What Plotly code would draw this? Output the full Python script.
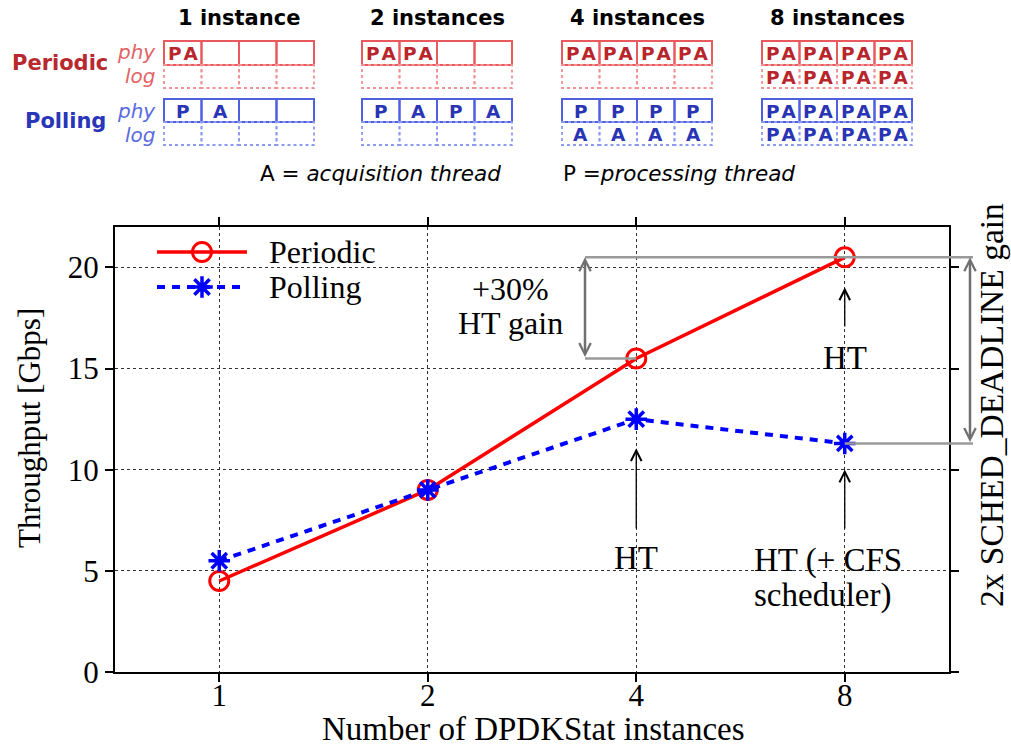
import plotly.graph_objects as go

W, H = 1011, 748

# ---------------- data ----------------
instances = ["1", "2", "4", "8"]
periodic = [4.5, 9.0, 15.5, 20.5]
polling = [5.5, 9.0, 12.5, 11.3]
y_ticks = [0, 5, 10, 15, 20]

group_titles = ["1 instance", "2 instances", "4 instances", "8 instances"]
periodic_phy = [["PA", "", "", ""], ["PA", "PA", "", ""], ["PA"] * 4, ["PA"] * 4]
periodic_log = [[""] * 4, [""] * 4, [""] * 4, ["PA"] * 4]
polling_phy = [["P", "A", "", ""], ["P", "A", "P", "A"], ["P"] * 4, ["PA"] * 4]
polling_log = [[""] * 4, [""] * 4, ["A"] * 4, ["PA"] * 4]

# ---------------- geometry ----------------
PL, PR, PT, PB = 115, 949, 227, 672
XR = [-0.5, 3.5]
YR = [0, 22]

def px(x):
    return x / W

def py(y):
    return 1 - y / H

def dx(i):
    return PL + (i - XR[0]) / (XR[1] - XR[0]) * (PR - PL)

def dy(v):
    return PB - (v - YR[0]) / (YR[1] - YR[0]) * (PB - PT)

SERIF = "Liberation Serif"
SANS = "DejaVu Sans"

RED = "#ff0000"
BLUE = "#0000ff"

fig = go.Figure()

# main data traces
fig.add_trace(go.Scatter(
    x=list(range(len(instances))), y=periodic, mode="lines+markers", name="Periodic",
    line=dict(color=RED, width=3.5),
    marker=dict(symbol="circle-open", size=19, color=RED, line=dict(width=3, color=RED)),
    showlegend=False, xaxis="x", yaxis="y"))
fig.add_trace(go.Scatter(
    x=list(range(len(instances))), y=polling, mode="lines+markers", name="Polling",
    line=dict(color=BLUE, width=4, dash="8px,7px"),
    marker=dict(symbol="asterisk-open", size=18, color=BLUE, line=dict(width=3.5, color=BLUE)),
    showlegend=False, xaxis="x", yaxis="y"))

# custom legend on pixel overlay axis
leg_x0, leg_x1, leg_mx, leg_tx = 157, 247, 202, 267
for name, yy, tr in [("Periodic", 252, fig.data[0]), ("Polling", 287, fig.data[1])]:
    fig.add_trace(go.Scatter(
        x=[leg_x0, leg_x1], y=[yy, yy], mode="lines", line=tr.line,
        showlegend=False, xaxis="x2", yaxis="y2", hoverinfo="skip"))
    fig.add_trace(go.Scatter(
        x=[leg_mx], y=[yy], mode="markers", marker=tr.marker,
        showlegend=False, xaxis="x2", yaxis="y2", hoverinfo="skip"))

annotations = []
shapes = []


def label(x, y, text, size, family=SERIF, color="black", xanchor="center", angle=0):
    annotations.append(dict(x=px(x), y=py(y), xref="paper", yref="paper", text=text,
                            showarrow=False, xanchor=xanchor, yanchor="middle",
                            textangle=angle,
                            font=dict(family=family, size=size, color=color)))


for name, yy in [("Periodic", 252), ("Polling", 287)]:
    label(leg_tx, yy, name, 32, xanchor="left")

# axis titles
label(30, 428, "Throughput [Gbps]", 31, angle=-90)
label(533, 729, "Number of DPDKStat instances", 33)
label(991, 405, "2x SCHED_DEADLINE gain", 33.5, angle=-90)

# gray gain annotations
GRAY_L = "#9a9a9a"
GRAY_A = "#707070"
xa_left, xa_right = 585, 970
y_top = dy(periodic[3])
y_ht = dy(periodic[2])
y_pol = dy(polling[3])
for (x0, y0, x1, y1) in [(xa_left, y_top, xa_right + 3, y_top),
                         (xa_left, y_ht, dx(2), y_ht),
                         (dx(3), y_pol, xa_right + 3, y_pol)]:
    shapes.append(dict(type="line", xref="paper", yref="paper", x0=px(x0), y0=py(y0),
                       x1=px(x1), y1=py(y1), line=dict(color=GRAY_L, width=2.5), layer="above"))
for (xx, ya, yb) in [(xa_left, y_top, y_ht), (xa_right, y_top, y_pol)]:
    annotations.append(dict(x=px(xx), y=py(ya), xref="paper", yref="paper", text="",
                            showarrow=True, ax=0, ay=yb - ya, axref="pixel", ayref="pixel",
                            arrowhead=5, startarrowhead=5, arrowside="end+start",
                            arrowsize=0.9, startarrowsize=0.9,
                            arrowwidth=2.5, arrowcolor=GRAY_A))

label(510, 289, "+30%", 32)
label(510, 323, "HT gain", 32)

# black HT arrows
for (xx, tip, tail) in [(dx(2), dy(polling[2]) + 29, 530),
                        (dx(3), dy(polling[3]) + 26, 530),
                        (dx(3), dy(periodic[3]) + 30, 328)]:
    annotations.append(dict(x=px(xx), y=py(tip), xref="paper", yref="paper", text="",
                            showarrow=True, ax=0, ay=tail - tip, axref="pixel", ayref="pixel",
                            arrowhead=5, arrowsize=1.6, arrowwidth=1.3, arrowcolor="black"))

label(dx(2), 558, "HT", 33)
label(dx(3), 358, "HT", 33)
label(752, 560, "HT (+ CFS", 33, xanchor="left")
label(752, 595, "scheduler)", 33, xanchor="left")

# ---------------- top diagram ----------------
group_x = [164, 362, 562, 762]
cell_w = 37.5
rows = [
    # (contents, y0, y1, border colour, dash, text colour)
    (periodic_phy, 41, 65, "#e85a5e", "solid", "#b8262c"),
    (periodic_log, 65, 88, "#f29092", "dot", "#b8262c"),
    (polling_phy, 99, 122, "#4e5fe0", "solid", "#2a35b5"),
    (polling_log, 122, 145, "#8c9af2", "dot", "#2a35b5"),
]
for g, gx in enumerate(group_x):
    label(gx + 2 * cell_w, 18, "<b>%s</b>" % group_titles[g], 21, family=SANS)
    for contents, y0, y1, col, dash, tcol in rows:
        for c in range(4):
            x0 = gx + c * cell_w
            shapes.append(dict(type="rect", xref="paper", yref="paper",
                               x0=px(x0), x1=px(x0 + cell_w), y0=py(y0), y1=py(y1),
                               line=dict(color=col, width=2 if dash == "solid" else 1.8, dash=dash)))
            txt = contents[g][c]
            if txt:
                label(x0 + cell_w / 2, (y0 + y1) / 2 + 1, "<b>%s</b>" % "\u200a".join(txt),
                      18.5, family=SANS, color=tcol)

label(110, 63, "<b>Periodic</b>", 21, family=SANS, color="#b8292f", xanchor="right")
label(108, 121, "<b>Polling</b>", 21, family=SANS, color="#2a35b8", xanchor="right")
for t, xx, yy, col in [("phy", 158, 52, "#e46366"), ("log", 158, 76, "#e46366"),
                       ("phy", 158, 111, "#5a6be0"), ("log", 158, 135, "#5a6be0")]:
    label(xx, yy, "<i>%s</i>" % t, 20, family=SANS, color=col, xanchor="right")

label(258, 173, "A = <i>acquisition thread</i>", 21.5, family=SANS, xanchor="left")
label(561, 173, "P =<i>processing thread</i>", 21.5, family=SANS, xanchor="left")

axis_common = dict(showgrid=True, gridcolor="#333", griddash="dot", gridwidth=1,
                   zeroline=False, showline=True, linecolor="black", linewidth=2,
                   mirror="ticks", ticks="outside", ticklen=8, tickwidth=1.5,
                   tickcolor="black", automargin=False,
                   tickfont=dict(family=SERIF, size=31, color="black"))

fig.update_layout(
    width=W, height=H, margin=dict(l=0, r=0, t=0, b=0),
    paper_bgcolor="white", plot_bgcolor="rgba(0,0,0,0)",
    template="none", showlegend=False,
    xaxis=dict(domain=[px(PL), px(PR)], range=XR, tickvals=list(range(len(instances))),
               ticktext=instances, anchor="y", ticklabelstandoff=-13, **axis_common),
    yaxis=dict(domain=[py(PB), py(PT)], range=YR, tickvals=y_ticks, anchor="x",
               **axis_common),
    xaxis2=dict(domain=[0, 1], range=[0, W], visible=False, anchor="y2", fixedrange=True),
    yaxis2=dict(domain=[0, 1], range=[H, 0], visible=False, anchor="x2", fixedrange=True),
    shapes=shapes, annotations=annotations,
)

fig.write_html("out.html")
